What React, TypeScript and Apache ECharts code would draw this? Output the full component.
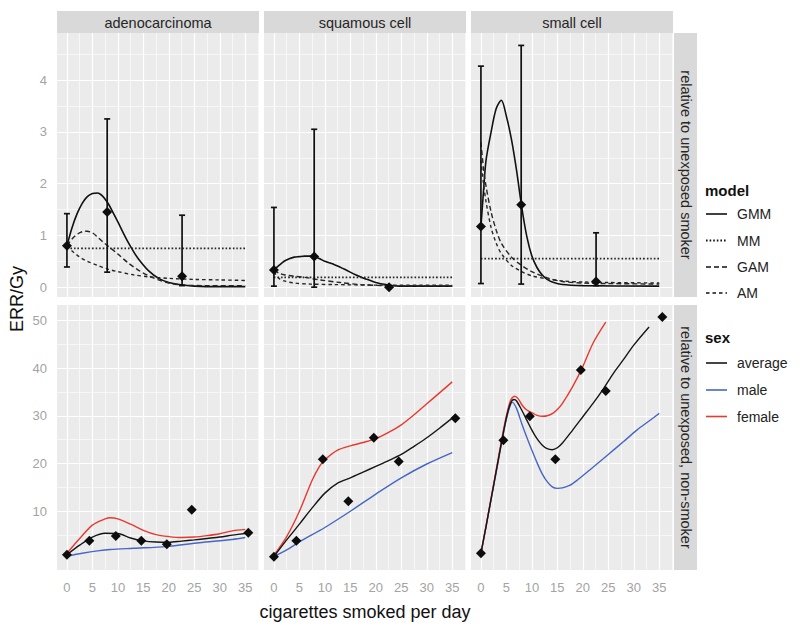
import React, { useEffect, useRef } from "react";
import * as echarts from "echarts";

const FONT = "'Liberation Sans', Arial, Helvetica, sans-serif";

const panelNames = ["adenocarcinoma", "squamous cell", "small cell"];
const rowNames = ["relative to unexposed smoker", "relative to unexposed, non-smoker"];
const xTitle = "cigarettes smoked per day";
const yTitle = "ERR/Gy";

const xTicks = [0, 5, 10, 15, 20, 25, 30, 35];
const xMinor = [2.5, 7.5, 12.5, 17.5, 22.5, 27.5, 32.5, 37.5];
const topYTicks = [0, 1, 2, 3, 4];
const topYMinor = [0.5, 1.5, 2.5, 3.5, 4.5];
const bottomYTicks = [10, 20, 30, 40, 50];
const bottomYMinor = [5, 15, 25, 35, 45];

const modelNames = ["GMM", "MM", "GAM", "AM"];
const sexNames = ["average", "male", "female"];

// ---- top row: observed ERR/Gy with CI ----
const errX = [0, 7.9, 22.6];
const adenoEst = [0.8, 1.45, 0.21];
const adenoLo = [0.39, 0.29, 0.03];
const adenoHi = [1.42, 3.25, 1.39];
const squamousEst = [0.33, 0.59, 0.0];
const squamousLo = [0.02, 0.0, -0.02];
const squamousHi = [1.54, 3.05, 0.03];
const smallEst = [1.17, 1.59, 0.11];
const smallLo = [0.07, 0.06, 0.03];
const smallHi = [4.27, 4.67, 1.05];

// ---- top row: model curves ----
const adenoGMM = [[0,0.8],[1,1.15],[2,1.42],[3,1.62],[4,1.75],[5,1.81],[6,1.82],[7,1.76],[8,1.63],[9,1.45],[10,1.26],[11,1.06],[12,0.87],[13,0.7],[14,0.55],[16,0.32],[18,0.17],[20,0.09],[22,0.05],[25,0.02],[30,0.01],[35,0.01]];
const adenoMM = [[0,0.75],[35,0.75]];
const adenoGAM = [[0,0.8],[1,0.93],[2,1.02],[3,1.07],[4,1.08],[5,1.05],[6,0.97],[7,0.88],[8,0.8],[10,0.64],[12,0.47],[14,0.33],[16,0.22],[18,0.14],[20,0.08],[23,0.04],[27,0.03],[35,0.03]];
const adenoAM = [[0,0.8],[1,0.7],[2,0.62],[3,0.55],[4,0.5],[6,0.42],[8,0.35],[10,0.3],[13,0.24],[16,0.2],[20,0.17],[25,0.15],[30,0.14],[35,0.13]];

const squamousGMM = [[0,0.33],[1,0.42],[2,0.5],[3,0.55],[4,0.58],[5,0.59],[6,0.6],[7,0.6],[8,0.59],[9,0.55],[10,0.5],[12,0.43],[14,0.34],[16,0.24],[18,0.16],[20,0.09],[22,0.05],[25,0.02],[35,0.02]];
const squamousMM = [[0,0.19],[35,0.19]];
const squamousGAM = [[0,0.33],[1,0.27],[2,0.24],[4,0.21],[6,0.19],[9,0.14],[13,0.09],[17,0.05],[22,0.03],[35,0.02]];
const squamousAM = [[0,0.3],[1,0.17],[2,0.12],[4,0.08],[7,0.06],[12,0.05],[20,0.04],[35,0.04]];

const smallGMM = [[0,1.17],[0.5,1.85],[1,2.45],[2,3.0],[3,3.45],[4,3.61],[5,3.3],[6,2.85],[7,2.25],[8,1.55],[9,0.98],[10,0.6],[11,0.38],[12,0.24],[13,0.15],[14,0.1],[16,0.05],[20,0.03],[35,0.02]];
const smallMM = [[0,0.55],[35,0.55]];
const smallGAM = [[0,2.8],[0.5,2.3],[1,1.95],[2,1.45],[3,1.1],[4,0.85],[6,0.58],[8,0.42],[10,0.3],[13,0.18],[16,0.11],[20,0.08],[25,0.07],[35,0.06]];
const smallAM = [[0,2.45],[0.5,2.0],[1,1.65],[2,1.15],[3,0.85],[4,0.65],[6,0.42],[8,0.3],[10,0.22],[13,0.16],[16,0.12],[20,0.1],[25,0.09],[35,0.08]];

// ---- bottom row: observed ----
const ptX = [0, 4.4, 9.6, 14.6, 19.6, 24.5, 35.6];
const adenoPts = [0.9, 3.8, 4.8, 3.8, 3.1, 10.3, 5.5];
const squamousPts = [0.5, 3.8, 20.9, 12.1, 25.4, 20.4, 29.5];
const smallPts = [1.2, 24.9, 29.9, 20.9, 39.6, 35.2, 50.7];

// ---- bottom row: fitted by sex ----
const adenoAvg = [[0,0.9],[2.5,2.9],[5,4.6],[7.5,5.4],[10,5.35],[12.5,4.4],[15,3.8],[17.5,3.55],[20,3.5],[22.5,3.75],[25,4.0],[27.5,4.3],[30,4.6],[32.5,5.0],[35,5.35]];
const adenoMale = [[0,0.6],[3,1.2],[6,1.7],[8.5,2.0],[13,2.25],[19.5,2.6],[26,3.4],[32.5,4.1],[35,4.5]];
const adenoFemale = [[0,1.2],[2.5,4.3],[5,7.1],[7.5,8.4],[8.5,8.65],[10,8.4],[12.5,7.3],[15,6.0],[17.5,5.1],[20,4.7],[22.5,4.5],[25,4.6],[27.5,4.9],[30,5.3],[32.5,5.9],[35,6.2]];

const squamousAvg = [[0,0.5],[2.5,4.0],[5,7.3],[7.5,10.7],[10,13.8],[12.5,15.9],[15,17.0],[17.5,18.2],[20,19.4],[22.5,20.6],[25,21.9],[27.5,23.6],[30,25.4],[32.5,27.4],[35,29.5]];
const squamousMale = [[0,0.5],[2.5,1.9],[5,3.6],[10,6.6],[15,10.0],[20,13.6],[25,17.0],[30,19.9],[35,22.3]];
const squamousFemale = [[0,0.8],[2.5,4.7],[5,10.0],[7.5,16.5],[9,19.5],[10,20.8],[12.5,22.8],[15,23.7],[17.5,24.4],[20,25.2],[22.5,26.5],[25,28.1],[27.5,30.2],[30,32.5],[32.5,34.8],[35,37.1]];

const smallAvg = [[0,1.2],[1,6.8],[2,12.6],[3,18.4],[4,24.2],[5,29.6],[5.8,32.6],[6.5,33.4],[7,33.1],[8,31.2],[9,29.1],[10,27.0],[11,25.2],[12,23.9],[13,23.1],[14,22.9],[15,23.3],[16,24.3],[18,27.0],[20,29.8],[22,32.6],[24,35.6],[26,38.9],[28,41.8],[30,44.8],[33,48.6]];
const smallMale = [[0,1.2],[1,6.8],[2,12.5],[3,18.2],[4,24.0],[5,29.3],[5.8,32.3],[6.2,32.8],[7,31.5],[8,28.4],[9,25.5],[10,22.8],[11,20.2],[12,17.9],[13,16.2],[14,15.1],[15,14.8],[16,14.9],[17.4,15.4],[19,16.6],[21.3,18.6],[24,21.0],[26,22.8],[28,24.6],[30.6,27.0],[33,28.9],[35,30.5]];
const smallFemale = [[0,1.2],[1,6.9],[2,12.8],[3,18.7],[4,24.6],[5,30.0],[5.8,33.2],[6.6,34.1],[7.3,33.6],[8.1,32.2],[9,31.2],[10.1,30.6],[11,30.1],[12.1,29.9],[13,30.0],[14.1,30.5],[15,31.3],[16,32.6],[18,36.1],[20,40.3],[22,45.2],[24.5,49.6]];

// ---- layout / style (not data) ----
const PANEL_LEFT = [57, 264, 471];
const PANEL_W = 202;
const ROW_TOP = [33, 305];
const ROW_H = [264, 265];
const X_RANGE = [-1.95, 37.7];
const Y_RANGE = [[-0.19, 4.91], [-2.3, 53.2]];
const TICK_COLOR = "#a3a3a3";
const LINE_BLACK = "#161616";
const BLUE = "#4667c3";
const RED = "#e8392e";

const modelStyle: Record<string, any> = {
  GMM: { type: "solid", width: 1.6 },
  MM: { type: [1.6, 2.0], width: 1.8 },
  GAM: { type: [5, 3], width: 1.4 },
  AM: { type: [3.5, 3], width: 1.4 },
};
const sexColor: Record<string, string> = { average: LINE_BLACK, male: BLUE, female: RED };

const topPanels = [
  { curves: [adenoGMM, adenoMM, adenoGAM, adenoAM], est: adenoEst, lo: adenoLo, hi: adenoHi },
  { curves: [squamousGMM, squamousMM, squamousGAM, squamousAM], est: squamousEst, lo: squamousLo, hi: squamousHi },
  { curves: [smallGMM, smallMM, smallGAM, smallAM], est: smallEst, lo: smallLo, hi: smallHi },
];
const bottomPanels = [
  { curves: [adenoAvg, adenoMale, adenoFemale], pts: adenoPts },
  { curves: [squamousAvg, squamousMale, squamousFemale], pts: squamousPts },
  { curves: [smallAvg, smallMale, smallFemale], pts: smallPts },
];

function errRender(params: any, api: any) {
  const x = api.value(0);
  const lo = api.value(1);
  const hi = api.value(2);
  const a = api.coord([x, lo]);
  const b = api.coord([x, hi]);
  const cap = 3;
  const style = { stroke: "#111", lineWidth: 1.7 };
  return {
    type: "group",
    children: [
      { type: "line", shape: { x1: a[0], y1: a[1], x2: b[0], y2: b[1] }, style },
      { type: "line", shape: { x1: a[0] - cap, y1: a[1], x2: a[0] + cap, y2: a[1] }, style },
      { type: "line", shape: { x1: b[0] - cap, y1: b[1], x2: b[0] + cap, y2: b[1] }, style },
    ],
  };
}

function buildOption() {
  const grid: any[] = [];
  const xAxis: any[] = [];
  const yAxis: any[] = [];
  const series: any[] = [];
  const graphic: any[] = [];

  for (let r = 0; r < 2; r++) {
    for (let c = 0; c < 3; c++) {
      const i = r * 3 + c;
      grid.push({
        left: PANEL_LEFT[c], top: ROW_TOP[r], width: PANEL_W, height: ROW_H[r],
        show: true, backgroundColor: "#ebebeb", borderWidth: 0, containLabel: false,
        outerBoundsMode: "none",
      });
      xAxis.push({
        type: "value", gridIndex: i, min: X_RANGE[0], max: X_RANGE[1],
        axisLine: { show: false }, splitLine: { show: false },
        axisTick: { show: r === 1, customValues: xTicks, length: 5, lineStyle: { color: TICK_COLOR, width: 1 } },
        axisLabel: { show: r === 1, customValues: xTicks, color: TICK_COLOR, fontSize: 13, fontFamily: FONT, margin: 11 },
      });
      const yTicks = r === 0 ? topYTicks : bottomYTicks;
      yAxis.push({
        type: "value", gridIndex: i, min: Y_RANGE[r][0], max: Y_RANGE[r][1],
        axisLine: { show: false }, splitLine: { show: false },
        axisTick: { show: c === 0, customValues: yTicks, length: 5, lineStyle: { color: TICK_COLOR, width: 1 } },
        axisLabel: { show: c === 0, customValues: yTicks, color: TICK_COLOR, fontSize: 13, fontFamily: FONT, margin: 10 },
      });

      const yMinor = r === 0 ? topYMinor : bottomYMinor;
      const minorStyle = { color: "#ffffff", width: 0.6, type: "solid" };
      const majorStyle = { color: "#ffffff", width: 1.2, type: "solid" };
      series.push({
        type: "line", xAxisIndex: i, yAxisIndex: i, data: [], silent: true, z: 1,
        markLine: {
          silent: true, z: 1, symbol: ["none", "none"], label: { show: false }, animation: false,
          emphasis: { disabled: true },
          lineStyle: majorStyle,
          data: [
            ...xMinor.map((v) => ({ xAxis: v, lineStyle: minorStyle })),
            ...yMinor.map((v) => ({ yAxis: v, lineStyle: minorStyle })),
            ...xTicks.map((v) => ({ xAxis: v, lineStyle: majorStyle })),
            ...yTicks.map((v) => ({ yAxis: v, lineStyle: majorStyle })),
          ],
        },
      });

      if (r === 0) {
        const p = topPanels[c];
        p.curves.forEach((d, k) => {
          const name = modelNames[k];
          series.push({
            type: "line", name, xAxisIndex: i, yAxisIndex: i, data: d, showSymbol: false,
            smooth: 0.3, z: 3, silent: true,
            lineStyle: { color: k === 0 ? "#111" : "#262626", width: modelStyle[name].width, type: modelStyle[name].type },
          });
        });
        series.push({
          type: "custom", xAxisIndex: i, yAxisIndex: i, renderItem: errRender, z: 4, silent: true,
          encode: { x: 0, y: [1, 2] },
          data: errX.map((x, k) => [x, p.lo[k], p.hi[k]]),
        });
        series.push({
          type: "scatter", xAxisIndex: i, yAxisIndex: i, symbol: "diamond", symbolSize: 10, z: 5, silent: true,
          itemStyle: { color: "#0d0d0d", opacity: 1 },
          data: errX.map((x, k) => [x, p.est[k]]),
        });
      } else {
        const p = bottomPanels[c];
        p.curves.forEach((d, k) => {
          const name = sexNames[k];
          series.push({
            type: "line", name, xAxisIndex: i, yAxisIndex: i, data: d, showSymbol: false,
            smooth: 0.3, z: k === 0 ? 4 : 3, silent: true,
            lineStyle: { color: sexColor[name], width: 1.4 },
          });
        });
        series.push({
          type: "scatter", xAxisIndex: i, yAxisIndex: i, symbol: "diamond", symbolSize: 10, z: 5, silent: true,
          itemStyle: { color: "#0d0d0d", opacity: 1 },
          data: ptX.map((x, k) => [x, p.pts[k]]),
        });
      }
    }
  }

  // strips
  panelNames.forEach((name, c) => {
    graphic.push({ type: "rect", shape: { x: PANEL_LEFT[c], y: 11, width: PANEL_W, height: 22 }, style: { fill: "#d9d9d9" }, silent: true });
    graphic.push({
      type: "text", x: PANEL_LEFT[c] + PANEL_W / 2, y: 22.5, silent: true,
      style: { text: name, fontSize: 14.5, fontFamily: FONT, fill: "#262626", align: "center", verticalAlign: "middle" },
    });
  });
  rowNames.forEach((name, r) => {
    graphic.push({ type: "rect", shape: { x: 674, y: ROW_TOP[r], width: 23, height: ROW_H[r] }, style: { fill: "#d9d9d9" }, silent: true });
    graphic.push({
      type: "text", x: 685.5, y: ROW_TOP[r] + ROW_H[r] / 2, rotation: -Math.PI / 2, silent: true,
      style: { text: name, fontSize: 14.5, fontFamily: FONT, fill: "#262626", align: "center", verticalAlign: "middle" },
    });
  });

  // axis titles
  graphic.push({
    type: "text", x: 365, y: 612, silent: true,
    style: { text: xTitle, fontSize: 18, fontFamily: FONT, fill: "#111", align: "center", verticalAlign: "middle" },
  });
  graphic.push({
    type: "text", x: 17, y: 299, rotation: Math.PI / 2, silent: true,
    style: { text: yTitle, fontSize: 18, fontFamily: FONT, fill: "#111", align: "center", verticalAlign: "middle" },
  });

  // legends
  const legX = 705;
  graphic.push({
    type: "text", x: legX, y: 190, silent: true,
    style: { text: "model", fontSize: 15, fontWeight: "bold", fontFamily: FONT, fill: "#111", align: "left", verticalAlign: "middle" },
  });
  const modelY = [214, 240.5, 267, 293];
  modelNames.forEach((name, k) => {
    graphic.push({
      type: "line", silent: true, shape: { x1: legX + 1, y1: modelY[k], x2: legX + 22, y2: modelY[k] },
      style: { stroke: "#111", lineWidth: modelStyle[name].width, lineDash: modelStyle[name].type === "solid" ? null : modelStyle[name].type },
    });
    graphic.push({
      type: "text", x: legX + 32, y: modelY[k], silent: true,
      style: { text: name, fontSize: 14, fontFamily: FONT, fill: "#222", align: "left", verticalAlign: "middle" },
    });
  });
  graphic.push({
    type: "text", x: legX, y: 337, silent: true,
    style: { text: "sex", fontSize: 15, fontWeight: "bold", fontFamily: FONT, fill: "#111", align: "left", verticalAlign: "middle" },
  });
  const sexY = [363, 390, 416.5];
  sexNames.forEach((name, k) => {
    graphic.push({
      type: "line", silent: true, shape: { x1: legX + 1, y1: sexY[k], x2: legX + 22, y2: sexY[k] },
      style: { stroke: sexColor[name], lineWidth: 1.6 },
    });
    graphic.push({
      type: "text", x: legX + 32, y: sexY[k], silent: true,
      style: { text: name, fontSize: 14, fontFamily: FONT, fill: "#222", align: "left", verticalAlign: "middle" },
    });
  });

  return {
    animation: false,
    backgroundColor: "#ffffff",
    grid, xAxis, yAxis, series, graphic,
  };
}

export default function App() {
  const ref = useRef<HTMLDivElement>(null);
  useEffect(() => {
    document.body.style.margin = "0";
    const chart = echarts.init(ref.current!, null, { renderer: "svg" });
    chart.setOption(buildOption() as any);
    return () => chart.dispose();
  }, []);
  return <div ref={ref} style={{ width: 800, height: 632, background: "#fff" }} />;
}
